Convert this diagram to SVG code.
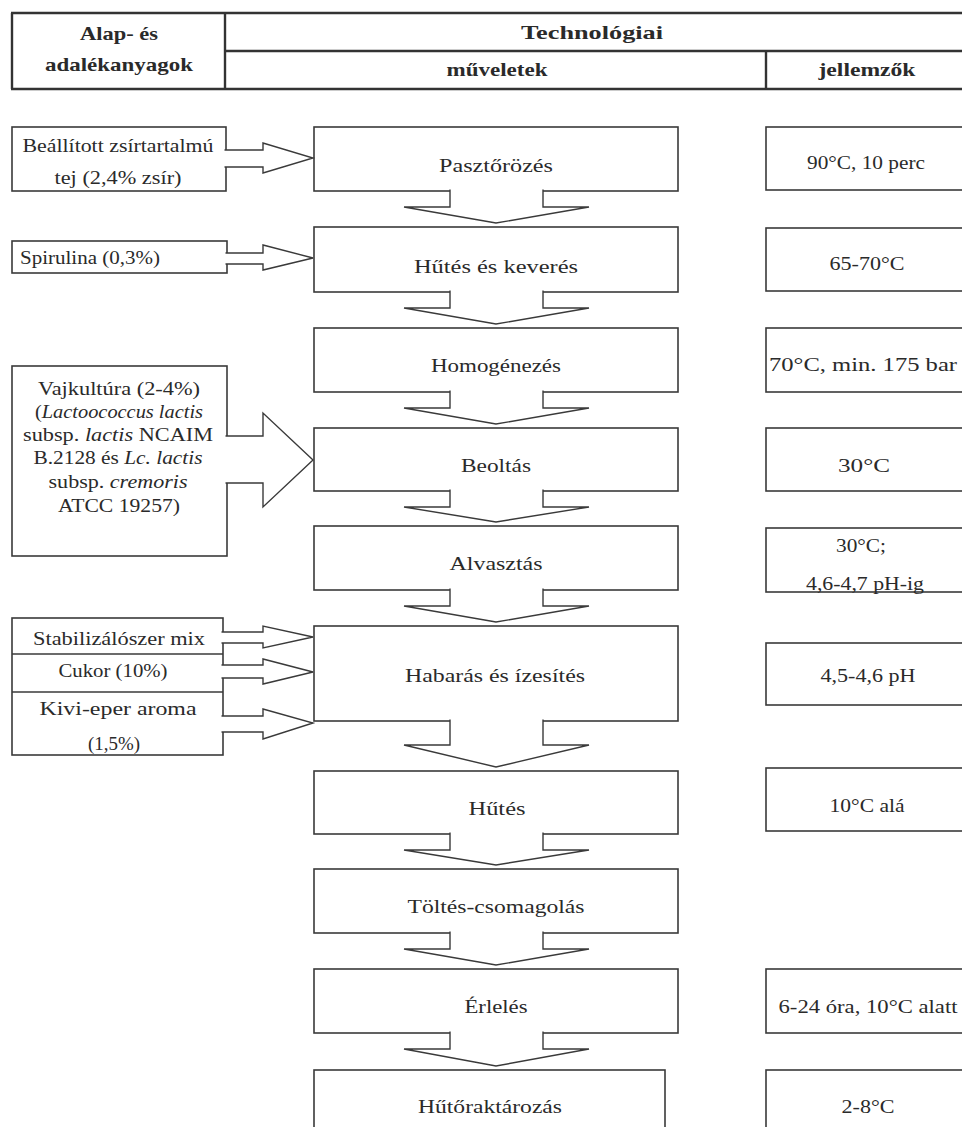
<svg xmlns="http://www.w3.org/2000/svg" width="962" height="1127" viewBox="0 0 962 1127">
<style>
.box{fill:#fff;stroke:#3a3a3a;stroke-width:1.6}
.arr{fill:#fff;stroke:#3a3a3a;stroke-width:1.4;stroke-linejoin:miter}
.hl{stroke:#333;stroke-width:2.4;fill:none}
.t{font-family:"Liberation Serif","Times New Roman",serif;font-size:19px;fill:#2a2a2a;text-anchor:middle}
.h{font-weight:bold}
.i{font-style:italic}
</style>
<rect width="962" height="1127" fill="#fff"/>
<g id="header">
<line class="hl" x1="11" y1="13" x2="962" y2="13"/>
<line class="hl" x1="225" y1="51" x2="962" y2="51"/>
<line class="hl" x1="11" y1="89" x2="962" y2="89"/>
<line class="hl" x1="12" y1="13" x2="12" y2="89"/>
<line class="hl" x1="225" y1="13" x2="225" y2="89"/>
<line class="hl" x1="766" y1="51" x2="766" y2="89"/>
<text class="t h" x="119" y="40" textLength="78" lengthAdjust="spacingAndGlyphs">Alap- és</text>
<text class="t h" x="119" y="71" textLength="148" lengthAdjust="spacingAndGlyphs">adalékanyagok</text>
<text class="t h" x="592" y="39" textLength="142" lengthAdjust="spacingAndGlyphs">Technológiai</text>
<text class="t h" x="497" y="76" textLength="101" lengthAdjust="spacingAndGlyphs">műveletek</text>
<text class="t h" x="867" y="76" textLength="97" lengthAdjust="spacingAndGlyphs">jellemzők</text>
</g>

<g id="in-tej"><rect class="box" x="12" y="127" width="214" height="64"/></g>
<g id="in-spirulina"><rect class="box" x="12" y="241" width="215" height="32"/></g>
<g id="in-vajkultura"><rect class="box" x="12" y="366" width="215" height="190"/></g>
<g id="in-adalek">
<rect class="box" x="12" y="618" width="211" height="137"/>
<line class="box" x1="12" y1="654" x2="223" y2="654"/>
<line class="box" x1="12" y1="692" x2="223" y2="692"/>
</g>

<g id="p1"><rect class="box" x="314" y="127" width="364" height="64"/></g>
<g id="p2"><rect class="box" x="314" y="227" width="364" height="65"/></g>
<g id="p3"><rect class="box" x="314" y="328" width="364" height="64"/></g>
<g id="p4"><rect class="box" x="314" y="428" width="364" height="63"/></g>
<g id="p5"><rect class="box" x="314" y="526" width="364" height="64"/></g>
<g id="p6"><rect class="box" x="314" y="626" width="364" height="95"/></g>
<g id="p7"><rect class="box" x="314" y="771" width="364" height="63"/></g>
<g id="p8"><rect class="box" x="314" y="869" width="364" height="64"/></g>
<g id="p9"><rect class="box" x="314" y="969" width="364" height="64"/></g>
<g id="p10"><rect class="box" x="314" y="1070" width="351" height="80"/></g>

<g id="r1"><rect class="box" x="766" y="127" width="210" height="63"/></g>
<g id="r2"><rect class="box" x="766" y="228" width="210" height="63"/></g>
<g id="r3"><rect class="box" x="766" y="328" width="210" height="64"/></g>
<g id="r4"><rect class="box" x="766" y="428" width="210" height="63"/></g>
<g id="r5"><rect class="box" x="766" y="528" width="210" height="64"/></g>
<g id="r6"><rect class="box" x="766" y="643" width="210" height="62"/></g>
<g id="r7"><rect class="box" x="766" y="768" width="210" height="63"/></g>
<g id="r8"><rect class="box" x="766" y="969" width="210" height="64"/></g>
<g id="r9"><rect class="box" x="766" y="1070" width="210" height="80"/></g>

<g id="connectors">
<path class="arr" d="M224.5,150 H263 V143 L313,158 L263,173 V167 H224.5"/>
<path class="arr" d="M225.5,253 H263 V245 L313,258 L263,270 V264 H225.5"/>
<path class="arr" d="M225.5,436 H263 V413 L313,460 L263,507 V483 H225.5"/>
<path class="arr" d="M221.5,632 H263 V626 L313,637 L263,648 V643 H221.5"/>
<path class="arr" d="M221.5,665 H263 V659 L313,672 L263,684 V678 H221.5"/>
<path class="arr" d="M221.5,716 H263 V709 L313,723 L263,739 V732 H221.5"/>

<path class="arr" d="M450,189.5 V207 H404 L496,223 L589,207 H543 V189.5"/>
<path class="arr" d="M450,290.5 V308 H404 L496,324 L589,308 H543 V290.5"/>
<path class="arr" d="M450,390.5 V408 H404 L496,424 L589,408 H543 V390.5"/>
<path class="arr" d="M450,489.5 V507 H404 L496,522 L589,507 H543 V489.5"/>
<path class="arr" d="M450,588.5 V606 H404 L496,622 L589,606 H543 V588.5"/>
<path class="arr" d="M450,719.5 V745 H404 L496,767 L589,745 H543 V719.5"/>
<path class="arr" d="M450,832.5 V850 H404 L496,865 L589,850 H543 V832.5"/>
<path class="arr" d="M450,931.5 V949 H404 L496,965 L589,949 H543 V931.5"/>
<path class="arr" d="M450,1031.5 V1049 H404 L496,1066 L589,1049 H543 V1031.5"/>
</g>

<g id="labels">
<text class="t" x="118" y="152" textLength="191" lengthAdjust="spacingAndGlyphs">Beállított zsírtartalmú</text>
<text class="t" x="118" y="184" textLength="127" lengthAdjust="spacingAndGlyphs">tej (2,4% zsír)</text>
<text class="t" x="90" y="264" textLength="140" lengthAdjust="spacingAndGlyphs">Spirulina (0,3%)</text>
<text class="t" x="119" y="395" textLength="162" lengthAdjust="spacingAndGlyphs">Vajkultúra (2-4%)</text>
<text class="t" x="119" y="418" textLength="168" lengthAdjust="spacingAndGlyphs">(<tspan class="i">Lactoococcus lactis</tspan></text>
<text class="t" x="118" y="441" textLength="190" lengthAdjust="spacingAndGlyphs">subsp. <tspan class="i">lactis</tspan> NCAIM</text>
<text class="t" x="118" y="464" textLength="169" lengthAdjust="spacingAndGlyphs">B.2128 és <tspan class="i">Lc. lactis</tspan></text>
<text class="t" x="118" y="488" textLength="139" lengthAdjust="spacingAndGlyphs">subsp. <tspan class="i">cremoris</tspan></text>
<text class="t" x="119" y="512" textLength="122" lengthAdjust="spacingAndGlyphs">ATCC 19257)</text>
<text class="t" x="119" y="645" textLength="172" lengthAdjust="spacingAndGlyphs">Stabilizálószer mix</text>
<text class="t" x="113" y="677" textLength="109" lengthAdjust="spacingAndGlyphs">Cukor (10%)</text>
<text class="t" x="118" y="715" textLength="157" lengthAdjust="spacingAndGlyphs">Kivi-eper aroma</text>
<text class="t" x="114" y="750" textLength="52" lengthAdjust="spacingAndGlyphs">(1,5%)</text>

<text class="t" x="496" y="172" textLength="114" lengthAdjust="spacingAndGlyphs">Pasztőrözés</text>
<text class="t" x="496" y="273" textLength="164" lengthAdjust="spacingAndGlyphs">Hűtés és keverés</text>
<text class="t" x="496" y="372" textLength="130" lengthAdjust="spacingAndGlyphs">Homogénezés</text>
<text class="t" x="496" y="472" textLength="70" lengthAdjust="spacingAndGlyphs">Beoltás</text>
<text class="t" x="496" y="570" textLength="93" lengthAdjust="spacingAndGlyphs">Alvasztás</text>
<text class="t" x="495" y="682" textLength="180" lengthAdjust="spacingAndGlyphs">Habarás és ízesítés</text>
<text class="t" x="497" y="815" textLength="57" lengthAdjust="spacingAndGlyphs">Hűtés</text>
<text class="t" x="496" y="913" textLength="177" lengthAdjust="spacingAndGlyphs">Töltés-csomagolás</text>
<text class="t" x="496" y="1013" textLength="63" lengthAdjust="spacingAndGlyphs">Érlelés</text>
<text class="t" x="490" y="1113" textLength="144" lengthAdjust="spacingAndGlyphs">Hűtőraktározás</text>

<text class="t" x="866" y="169" textLength="118" lengthAdjust="spacingAndGlyphs">90°C, 10 perc</text>
<text class="t" x="867" y="270" textLength="75" lengthAdjust="spacingAndGlyphs">65-70°C</text>
<text class="t" x="863" y="371" textLength="188" lengthAdjust="spacingAndGlyphs">70°C, min. 175 bar</text>
<text class="t" x="864" y="472" textLength="52" lengthAdjust="spacingAndGlyphs">30°C</text>
<text class="t" x="861" y="552" textLength="50" lengthAdjust="spacingAndGlyphs">30°C;</text>
<text class="t" x="865" y="590" textLength="118" lengthAdjust="spacingAndGlyphs">4,6-4,7 pH-ig</text>
<text class="t" x="868" y="682" textLength="95" lengthAdjust="spacingAndGlyphs">4,5-4,6 pH</text>
<text class="t" x="867" y="812" textLength="75" lengthAdjust="spacingAndGlyphs">10°C alá</text>
<text class="t" x="868" y="1013" textLength="179" lengthAdjust="spacingAndGlyphs">6-24 óra, 10°C alatt</text>
<text class="t" x="868" y="1113" textLength="53" lengthAdjust="spacingAndGlyphs">2-8°C</text>
</g>
</svg>
